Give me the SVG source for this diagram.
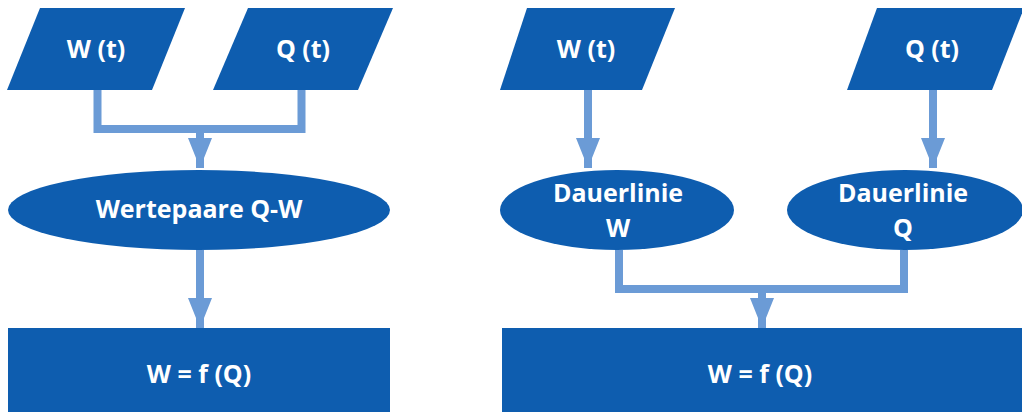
<svg xmlns="http://www.w3.org/2000/svg" width="1022" height="412" viewBox="0 0 1022 412">
<style>
.node{fill:#0E5DAF;}
.lbl{fill:#FFFFFF;font-family:"Open Sans","Liberation Sans",sans-serif;font-weight:bold;font-size:25px;text-anchor:middle;}
.conn{fill:none;stroke:#6B9BD6;stroke-width:8;stroke-linejoin:miter;stroke-linecap:butt;}
</style>
<defs>
<marker id="ah" markerUnits="userSpaceOnUse" markerWidth="30" markerHeight="24" refX="30" refY="12" orient="auto">
<path d="M0,0 L30,12 L0,24 Z" fill="#6B9BD6"/>
</marker>
</defs>
<rect width="1022" height="412" fill="#FFFFFF"/>
<g id="connectors">
<path class="conn" d="M97.5,90 V129 H301.5 V90"/>
<path class="conn" d="M200,129 V168" marker-end="url(#ah)"/>
<path class="conn" d="M200,250 V328" marker-end="url(#ah)"/>
<path class="conn" d="M588,90 V168" marker-end="url(#ah)"/>
<path class="conn" d="M933,90 V168" marker-end="url(#ah)"/>
<path class="conn" d="M619,250 V289 H904 V250"/>
<path class="conn" d="M762,289 V328" marker-end="url(#ah)"/>
</g>
<g id="left-wt">
<polygon class="node" points="40,8 185,8 152,90 7,90"/>
<text class="lbl" x="96" y="58">W (t)</text>
</g>
<g id="left-qt">
<polygon class="node" points="248,8 393,8 358,90 213,90"/>
<text class="lbl" x="303" y="58">Q (t)</text>
</g>
<g id="left-wertepaare">
<ellipse class="node" cx="199" cy="210" rx="191" ry="40"/>
<text class="lbl" x="199" y="218">Wertepaare Q-W</text>
</g>
<g id="left-result">
<rect class="node" x="8" y="328" width="382" height="90"/>
<text class="lbl" x="199" y="383">W = f (Q)</text>
</g>
<g id="right-wt">
<polygon class="node" points="527,8 675,8 642,90 500,90"/>
<text class="lbl" x="586" y="58">W (t)</text>
</g>
<g id="right-qt">
<polygon class="node" points="877,8 1024,8 992,90 847,90"/>
<text class="lbl" x="932" y="58">Q (t)</text>
</g>
<g id="right-dauer-w">
<ellipse class="node" cx="617" cy="210" rx="117" ry="40"/>
<text class="lbl" x="618" y="202">Dauerlinie</text>
<text class="lbl" x="618" y="237">W</text>
</g>
<g id="right-dauer-q">
<ellipse class="node" cx="905" cy="210" rx="118" ry="40"/>
<text class="lbl" x="903" y="202">Dauerlinie</text>
<text class="lbl" x="903" y="237">Q</text>
</g>
<g id="right-result">
<rect class="node" x="502" y="328" width="530" height="90"/>
<text class="lbl" x="760" y="383">W = f (Q)</text>
</g>
</svg>
